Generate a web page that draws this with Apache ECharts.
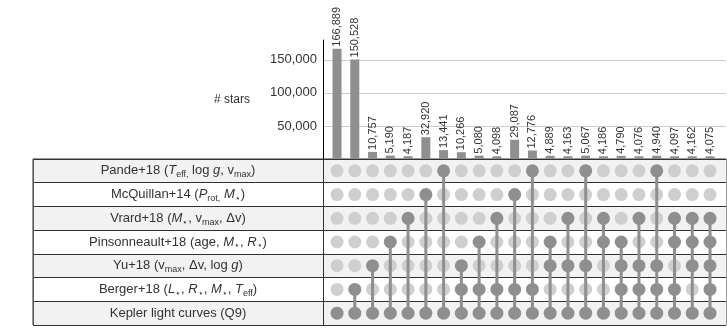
<!DOCTYPE html>
<html>
<head>
<meta charset="utf-8">
<script src="https://cdn.jsdelivr.net/npm/echarts@6/dist/echarts.min.js"></script>
<style>
html,body{margin:0;padding:0;background:#fff;}
#chart{width:727px;height:329px;}
</style>
</head>
<body>
<div id="chart"></div>
<script>
// ---- data ----
const setNames = ['Pande+18', 'McQuillan+14', 'Vrard+18', 'Pinsonneault+18', 'Yu+18', 'Berger+18', 'Kepler light curves'];
const setLabels = [
  'Pande+18 ({i|T}{sub|eff,} log {i|g}, v{sub|max})',
  'McQuillan+14 ({i|P}{sub|rot,} {i|M}{sub|⋆})',
  'Vrard+18 ({i|M}{sub|⋆}, v{sub|max}, Δv)',
  'Pinsonneault+18 (age, {i|M}{sub|⋆}, {i|R}{sub|⋆})',
  'Yu+18 (v{sub|max}, Δv, log {i|g})',
  'Berger+18 ({i|L}{sub|⋆}, {i|R}{sub|⋆}, {i|M}{sub|⋆}, {i|T}{sub|eff})',
  'Kepler light curves (Q9)'
];
// each intersection: indices of member sets (0 = Pande+18 ... 6 = Kepler)
const intersections = [
  [6], [5,6], [4,6], [3,6], [2,6], [1,6], [0,6],
  [4,5,6], [3,5,6], [2,5,6], [1,5,6], [0,5,6],
  [3,4,6], [2,4,6], [0,4,6], [2,3,6],
  [3,4,5,6], [2,4,5,6], [0,4,5,6], [2,3,5,6], [2,3,4,6], [2,3,4,5,6]
];
const counts = [166889, 150528, 10757, 5190, 4187, 32920, 13441, 10266, 5080, 4098, 29087, 12776, 4889, 4163, 5067, 4186, 4790, 4076, 4940, 4097, 4162, 4075];
const yTicks = [50000, 100000, 150000];

// ---- derived ----
const nCols = counts.length;
const light = [], dark = [], links = [];
intersections.forEach((members, c) => {
  for (let r = 0; r < setNames.length; r++) {
    (members.indexOf(r) >= 0 ? dark : light).push([c, r]);
  }
  if (members.length > 1) links.push([c, Math.min(...members), Math.max(...members)]);
});

const FONT = '"Liberation Sans", Arial, Helvetica, sans-serif';
const TXT = '#333';
const GRAY = '#8f8f8f';
const ROWCOL = ['#f2f2f2', '#ffffff'];

const chart = echarts.init(document.getElementById('chart'), null, {renderer: 'canvas'});
chart.setOption({
  animation: false,
  textStyle: {fontFamily: FONT, color: TXT},
  grid: [
    {left: 323, right: 1, top: 40, height: 119},
    {left: 323, right: 1, top: 159, height: 166, show: true, borderColor: '#333', borderWidth: 1, backgroundColor: 'transparent'},
    {left: 33, width: 290, top: 159, height: 166, show: true, borderColor: '#333', borderWidth: 1, backgroundColor: 'transparent'}
  ],
  xAxis: [
    {gridIndex: 0, type: 'value', min: -0.79, max: nCols - 0.1, show: false},
    {gridIndex: 1, type: 'value', min: -0.79, max: nCols - 0.1, show: false},
    {gridIndex: 2, type: 'value', min: 0, max: 1, show: false}
  ],
  yAxis: [
    {
      gridIndex: 0, type: 'value', min: 0, max: 180000, interval: 50000,
      name: '# stars', nameLocation: 'middle', nameRotate: 0, nameGap: 73,
      nameTextStyle: {fontSize: 12, color: TXT, fontFamily: FONT},
      axisLine: {show: true, onZero: false, lineStyle: {color: '#000', width: 1}},
      axisTick: {show: false},
      axisLabel: {
        fontSize: 13, color: TXT, margin: 6, fontFamily: FONT,
        formatter: v => yTicks.indexOf(v) >= 0 ? v.toLocaleString('en-US') : ''
      },
      splitLine: {show: true, showMinLine: false, showMaxLine: false, lineStyle: {color: '#cccccc', width: 1}}
    },
    {
      gridIndex: 1, type: 'category', data: setNames, inverse: true,
      axisLine: {show: true, onZero: false, lineStyle: {color: '#333'}},
      axisTick: {show: false},
      axisLabel: {
        show: true, margin: 145, align: 'center', fontSize: 13, lineHeight: 17, color: TXT, fontFamily: FONT,
        formatter: (v) => setLabels[setNames.indexOf(v)],
        rich: {
          i: {fontStyle: 'italic', fontSize: 13, lineHeight: 17, color: TXT, fontFamily: FONT},
          sub: {fontSize: 9, lineHeight: 9, verticalAlign: 'bottom', color: TXT, fontFamily: FONT}
        }
      },
      splitArea: {show: true, areaStyle: {color: ROWCOL}},
      splitLine: {show: true, lineStyle: {color: '#333', width: 1}}
    },
    {
      gridIndex: 2, type: 'category', data: setNames, inverse: true,
      axisLine: {show: true, onZero: false, lineStyle: {color: '#555'}},
      axisTick: {show: false},
      axisLabel: {show: false},
      splitArea: {show: true, areaStyle: {color: ROWCOL}},
      splitLine: {show: true, lineStyle: {color: '#333', width: 1}}
    }
  ],
  series: [
    {
      type: 'bar', xAxisIndex: 0, yAxisIndex: 0,
      data: counts.map((v, i) => [i, v]),
      barWidth: 9,
      itemStyle: {color: GRAY},
      label: {
        show: true, position: 'top', rotate: 90, align: 'left', verticalAlign: 'middle', distance: 2,
        fontSize: 11, color: TXT, fontFamily: FONT,
        formatter: p => p.value[1].toLocaleString('en-US')
      }
    },
    {
      type: 'scatter', xAxisIndex: 1, yAxisIndex: 1, data: light,
      symbolSize: 13, itemStyle: {color: '#cfcfcf', opacity: 1}, z: 2, silent: true
    },
    {
      type: 'custom', xAxisIndex: 1, yAxisIndex: 1, data: links, z: 3,
      encode: {x: 0, y: [1, 2]},
      renderItem: (params, api) => {
        const a = api.coord([api.value(0), api.value(1)]);
        const b = api.coord([api.value(0), api.value(2)]);
        return {type: 'line', shape: {x1: a[0], y1: a[1], x2: b[0], y2: b[1]}, style: {stroke: GRAY, lineWidth: 3}};
      }
    },
    {
      type: 'scatter', xAxisIndex: 1, yAxisIndex: 1, data: dark,
      symbolSize: 13, itemStyle: {color: GRAY, opacity: 1}, z: 4, silent: true
    }
  ]
});
</script>
</body>
</html>
